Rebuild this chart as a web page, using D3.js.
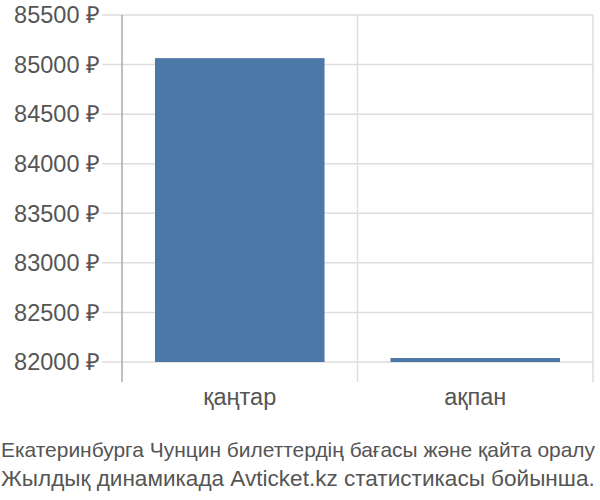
<!DOCTYPE html>
<html>
<head>
<meta charset="utf-8">
<script src="https://cdn.jsdelivr.net/npm/d3@7"></script>
<style>
  body { margin: 0; background: #fff; }
  text { font-family: "Liberation Sans", Arial, sans-serif; fill: #555; }
</style>
</head>
<body>
<div id="container"></div>
<script>
/* DATA */
const months = ["қаңтар", "ақпан"];
const prices = [85065, 82040];
const yTicks = [82000, 82500, 83000, 83500, 84000, 84500, 85000, 85500];
const caption = [
  "Екатеринбурга Чунцин билеттердің бағасы және қайта оралу",
  "Жылдық динамикада Avticket.kz статистикасы бойынша."
];

/* SIZES */
const width = 600, height = 500;
const plotLeft = 122, plotRight = 593, plotTop = 15, plotBottom = 362;

const svg = d3.select("#container")
  .append("svg")
  .attr("width", width)
  .attr("height", height);

/* SCALES */
const xScale = d3.scaleBand()
  .domain(months)
  .range([plotLeft, plotRight])
  .paddingInner(0)
  .paddingOuter(0);

const yScale = d3.scaleLinear()
  .domain([82000, 85500])
  .range([plotBottom, plotTop]);

// horizontal grid + left ticks
svg.selectAll("line.hgrid")
  .data(yTicks)
  .join("line")
  .attr("class", "hgrid")
  .attr("x1", plotLeft - 20)
  .attr("x2", plotRight)
  .attr("y1", d => yScale(d))
  .attr("y2", d => yScale(d))
  .attr("stroke", "#ddd")
  .attr("stroke-width", 1.5);

// vertical grid at band edges
const edges = months.map(m => xScale(m)).concat([plotRight]);
svg.selectAll("line.vgrid")
  .data(edges)
  .join("line")
  .attr("class", "vgrid")
  .attr("x1", d => d)
  .attr("x2", d => d)
  .attr("y1", plotTop)
  .attr("y2", plotBottom + 20)
  .attr("stroke", (d, i) => i === 0 ? "#aaa" : "#ddd")
  .attr("stroke-width", 1.5);

// bars
const inset = xScale.bandwidth() * 0.14;
svg.selectAll("rect")
  .data(prices)
  .join("rect")
  .attr("x", (d, i) => xScale(months[i]) + inset)
  .attr("width", xScale.bandwidth() - 2 * inset)
  .attr("y", d => yScale(d))
  .attr("height", d => yScale(82000) - yScale(d))
  .attr("fill", "#4c78a8");

// y labels
svg.selectAll("text.ylab")
  .data(yTicks)
  .join("text")
  .attr("class", "ylab")
  .attr("x", 100)
  .attr("y", d => yScale(d))
  .attr("dy", "0.35em")
  .attr("text-anchor", "end")
  .style("font-size", "23.5px")
  .text(d => d + " ₽");

// x labels
svg.selectAll("text.xlab")
  .data(months)
  .join("text")
  .attr("class", "xlab")
  .attr("x", d => xScale(d) + xScale.bandwidth() / 2)
  .attr("y", 397)
  .attr("dy", "0.35em")
  .attr("text-anchor", "middle")
  .style("font-size", "23.5px")
  .text(d => d);

// caption, shrunk to the page width when too long
svg.selectAll("text.cap")
  .data(caption)
  .join("text")
  .attr("class", "cap")
  .attr("x", 1)
  .attr("y", (d, i) => 457 + i * 29)
  .style("font-size", "22.7px")
  .text(d => d)
  .each(function() {
    const w = this.getComputedTextLength();
    if (w > 596) {
      d3.select(this).style("font-size", (22.7 * 594 / w) + "px");
    }
  });
</script>
</body>
</html>
